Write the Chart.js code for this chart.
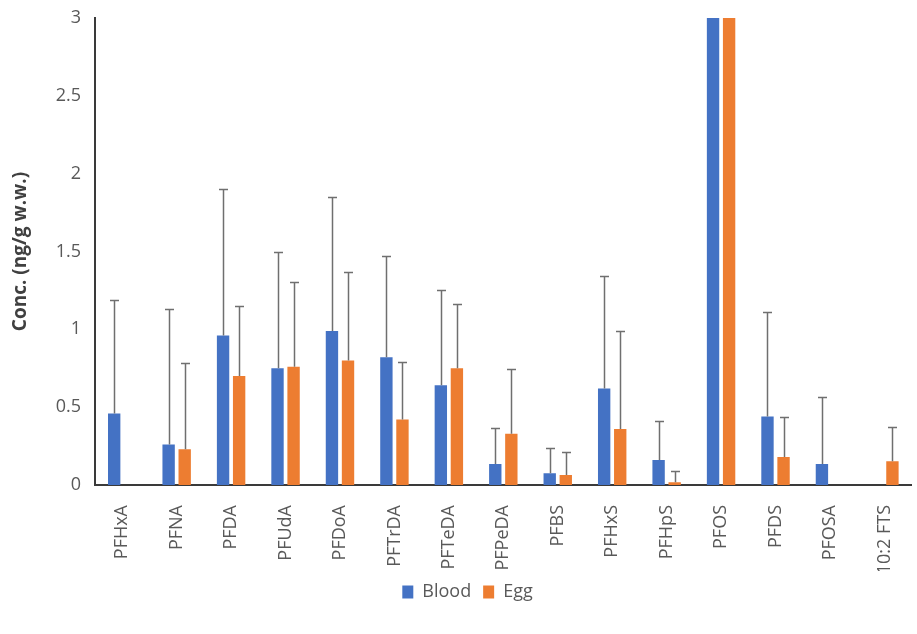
<!DOCTYPE html>
<html>
<head>
<meta charset="utf-8">
<script src="https://cdn.jsdelivr.net/npm/chart.js@4.4.1/dist/chart.umd.min.js"></script>
<style>
  html, body { margin: 0; padding: 0; background: #fff; overflow: hidden; }
  #wrap { width: 926px; height: 634px; }
</style>
</head>
<body>
<div id="wrap"><canvas id="mychart"></canvas></div>
<script>
// categories + values (PFOS is off the scale, clipped at 3)
var compounds = ['PFHxA','PFNA','PFDA','PFUdA','PFDoA','PFTrDA','PFTeDA','PFPeDA','PFBS','PFHxS','PFHpS','PFOS','PFDS','PFOSA','10:2 FTS'];
var bloodVals = [0.46, 0.26, 0.96, 0.75, 0.99, 0.82, 0.64, 0.135, 0.075, 0.62, 0.16, 5, 0.44, 0.135, null];
var eggVals   = [null, 0.23, 0.70, 0.76, 0.80, 0.42, 0.75, 0.33, 0.064, 0.36, 0.017, 5, 0.18, null, 0.152];
// standard deviation (upper error bar only)
var bloodSD = [0.73, 0.87, 0.94, 0.75, 0.86, 0.65, 0.61, 0.23, 0.16, 0.72, 0.25, 2, 0.67, 0.43, null];
var eggSD   = [null, 0.555, 0.45, 0.545, 0.57, 0.37, 0.41, 0.415, 0.145, 0.63, 0.073, 2, 0.26, null, 0.22];
var yTicks = [0, 0.5, 1, 1.5, 2, 2.5, 3];

var sdList = [bloodSD, eggSD];

// draws the upper error bars on top of the bars
var errorBars = {
  id: 'errorBars',
  afterDatasetsDraw: function(chart) {
    var ctx = chart.ctx;
    var ys = chart.scales.y;
    var area = chart.chartArea;
    ctx.save();
    ctx.beginPath();
    ctx.rect(area.left, area.top, area.right - area.left, area.bottom - area.top);
    ctx.clip();
    ctx.strokeStyle = '#6f6f6f';
    ctx.lineWidth = 1.5;
    chart.data.datasets.forEach(function(ds, i) {
      var meta = chart.getDatasetMeta(i);
      meta.data.forEach(function(bar, j) {
        var v = ds.data[j], sd = sdList[i][j];
        if (v == null || sd == null) return;
        var x = Math.round(bar.x) + 0.5;
        var y0 = ys.getPixelForValue(v);
        var y1 = Math.round(ys.getPixelForValue(v + sd)) + 0.5;
        ctx.beginPath();
        ctx.moveTo(x, y0);
        ctx.lineTo(x, y1);
        ctx.moveTo(x - 4.5, y1);
        ctx.lineTo(x + 4.5, y1);
        ctx.stroke();
      });
    });
    ctx.restore();
  }
};

var ctx = document.getElementById('mychart').getContext('2d');
var chart = new Chart(ctx, {
  type: 'bar',
  data: {
    labels: compounds,
    datasets: [{
      label: 'Blood',
      backgroundColor: '#4472C4',
      borderWidth: 0,
      data: bloodVals
    }, {
      label: 'Egg',
      backgroundColor: '#ED7D31',
      borderWidth: 0,
      data: eggVals
    }]
  },
  options: {
    responsive: true,
    maintainAspectRatio: false,
    animation: false,
    categoryPercentage: 0.59,
    barPercentage: 0.77,
    layout: { padding: { top: 18, right: 0, bottom: 23, left: 9 } },
    plugins: {
      legend: {
        position: 'bottom',
        labels: {
          boxWidth: 11, boxHeight: 13, padding: 12,
          color: '#595959',
          font: { family: 'Open Sans', size: 18 }
        }
      },
      tooltip: { enabled: false }
    },
    scales: {
      x: {
        grid: { display: false, drawTicks: false },
        border: { color: '#3a3a3a', width: 2 },
        ticks: {
          minRotation: 90, maxRotation: 90, padding: 20,
          color: '#595959',
          font: { family: 'Open Sans', size: 18 }
        },
        afterFit: function(s) { s.height = 86; }
      },
      y: {
        min: 0, max: 3,
        grid: { display: false, drawTicks: false },
        border: { color: '#3a3a3a', width: 2 },
        afterBuildTicks: function(s) { s.ticks = yTicks.map(function(v) { return { value: v }; }); },
        ticks: {
          padding: 14,
          color: '#595959',
          font: { family: 'Open Sans', size: 18 },
          callback: function(v) { return String(v); }
        },
        title: {
          display: true,
          text: 'Conc. (ng/g w.w.)',
          color: '#404040',
          padding: { top: 0, bottom: 0 },
          font: { family: 'Open Sans', size: 19, weight: 'bold' }
        },
        afterFit: function(s) { s.width = 86; s.paddingTop = 0; }
      }
    }
  },
  plugins: [errorBars]
});
</script>
</body>
</html>
